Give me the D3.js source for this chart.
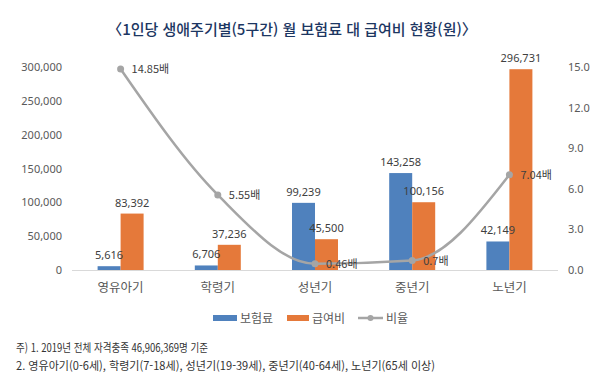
<!DOCTYPE html>
<html lang="ko">
<head>
<meta charset="UTF-8">
<title>1인당 생애주기별 월 보험료 대 급여비 현황</title>
<script src="https://cdn.jsdelivr.net/npm/d3@7/dist/d3.min.js"></script>
<style>
  html, body { margin: 0; padding: 0; background: #fff; }
  svg text { font-family: "Noto Sans CJK KR", "Noto Sans", sans-serif; }
</style>
</head>
<body>
<script>
// 데이터
var categories = ['영유아기', '학령기', '성년기', '중년기', '노년기'];
var premium = [5616, 6706, 99239, 143258, 42149];     // 보험료
var benefit = [83392, 37236, 45500, 100156, 296731];  // 급여비
var ratio = [14.85, 5.55, 0.46, 0.7, 7.04];           // 비율(배)
var ratioLabels = ['14.85배', '5.55배', '0.46배', '0.7배', '7.04배'];
var leftTicks = [0, 50000, 100000, 150000, 200000, 250000, 300000];
var rightTicks = [0, 3, 6, 9, 12, 15];
var seriesNames = ['보험료', '급여비', '비율'];
var notes = [
  '주) 1. 2019년 전체 자격충족 46,906,369명 기준',
  '2. 영유아기(0-6세), 학령기(7-18세), 성년기(19-39세), 중년기(40-64세), 노년기(65세 이상)'
];

var W = 600, H = 384;
var blue = '#4f81bd', orange = '#e5793a', gray = '#a5a5a5', txt = '#595959';

var svg = d3.select('body').append('svg').attr('width', W).attr('height', H);

// 제목
svg.append('text').attr('x', 292).attr('y', 35).attr('text-anchor', 'middle')
  .attr('font-size', 15).attr('font-weight', 500).attr('fill', '#1c3662')
  .text('〈1인당 생애주기별(5구간) 월 보험료 대 급여비 현황(원)〉');

var x = d3.scaleBand().domain(categories).range([72, 558]);
var y = d3.scaleLinear().domain([0, 300000]).range([270, 67]);
var y2 = d3.scaleLinear().domain([0, 15]).range([270, 67]);
var bw = 23;

// 왼쪽 축
var gl = svg.append('g').attr('transform', 'translate(62,0)')
  .call(d3.axisLeft(y).tickValues(leftTicks).tickSize(0).tickPadding(0).tickFormat(d3.format(',')));
gl.select('.domain').remove();
gl.selectAll('text').attr('font-size', 11).attr('fill', txt).style('font-family', '"Noto Sans", sans-serif');

// 오른쪽 축
var gr = svg.append('g').attr('transform', 'translate(568,0)')
  .call(d3.axisRight(y2).tickValues(rightTicks).tickSize(0).tickPadding(0).tickFormat(d3.format('.1f')));
gr.select('.domain').remove();
gr.selectAll('text').attr('font-size', 11).attr('fill', txt).style('font-family', '"Noto Sans", sans-serif');

// 막대
svg.selectAll('.bar-p').data(premium).enter().append('rect')
  .attr('x', function (d, i) { return x(categories[i]) + x.bandwidth() / 2 - bw; })
  .attr('y', function (d) { return y(d); })
  .attr('width', bw).attr('height', function (d) { return y(0) - y(d); })
  .attr('fill', blue);
svg.selectAll('.bar-b').data(benefit).enter().append('rect')
  .attr('x', function (d, i) { return x(categories[i]) + x.bandwidth() / 2; })
  .attr('y', function (d) { return y(d); })
  .attr('width', bw).attr('height', function (d) { return y(0) - y(d); })
  .attr('fill', orange);

// 기준선
svg.append('line').attr('x1', 72).attr('x2', 558).attr('y1', y(0) + 0.5).attr('y2', y(0) + 0.5)
  .attr('stroke', '#d9d9d9').attr('stroke-width', 1);

// 막대 값
svg.selectAll('.lab-p').data(premium).enter().append('text')
  .attr('x', function (d, i) { return x(categories[i]) + x.bandwidth() / 2 - bw / 2; })
  .attr('y', function (d) { return y(d) - 7; })
  .attr('text-anchor', 'middle').attr('font-size', 11).attr('fill', '#404040')
  .style('font-family', '"Noto Sans", sans-serif')
  .text(d3.format(','));
svg.selectAll('.lab-b').data(benefit).enter().append('text')
  .attr('x', function (d, i) { return x(categories[i]) + x.bandwidth() / 2 + bw / 2; })
  .attr('y', function (d) { return y(d) - 7; })
  .attr('text-anchor', 'middle').attr('font-size', 11).attr('fill', '#404040')
  .style('font-family', '"Noto Sans", sans-serif')
  .text(d3.format(','));

// 비율 선
var line = d3.line()
  .x(function (d, i) { return x(categories[i]) + x.bandwidth() / 2; })
  .y(function (d) { return y2(d); })
  .curve(d3.curveMonotoneX);
svg.append('path').datum(ratio).attr('d', line)
  .attr('fill', 'none').attr('stroke', gray).attr('stroke-width', 2.5);
svg.selectAll('.dot').data(ratio).enter().append('circle')
  .attr('cx', function (d, i) { return x(categories[i]) + x.bandwidth() / 2; })
  .attr('cy', function (d) { return y2(d); })
  .attr('r', 3.5).attr('fill', gray);
svg.selectAll('.lab-r').data(ratio).enter().append('text')
  .attr('x', function (d, i) { return x(categories[i]) + x.bandwidth() / 2 + 11; })
  .attr('y', function (d) { return y2(d) + 4; })
  .attr('font-size', 11).attr('fill', '#404040')
  .text(function (d, i) { return ratioLabels[i]; });

// 범주 라벨
svg.selectAll('.cat').data(categories).enter().append('text')
  .attr('x', function (d) { return x(d) + x.bandwidth() / 2; })
  .attr('y', 292).attr('text-anchor', 'middle')
  .attr('font-size', 12.5).attr('fill', txt)
  .text(function (d) { return d; });

// 범례
var lg = svg.append('g').attr('transform', 'translate(0,318)');
lg.append('rect').attr('x', 213).attr('y', -3).attr('width', 24).attr('height', 6).attr('fill', blue);
lg.append('text').attr('x', 240).attr('y', 4.5).attr('font-size', 12).attr('fill', txt).text(seriesNames[0]);
lg.append('rect').attr('x', 287).attr('y', -3).attr('width', 22).attr('height', 6).attr('fill', orange);
lg.append('text').attr('x', 312).attr('y', 4.5).attr('font-size', 12).attr('fill', txt).text(seriesNames[1]);
lg.append('line').attr('x1', 358).attr('x2', 383).attr('y1', 0).attr('y2', 0)
  .attr('stroke', gray).attr('stroke-width', 2.5);
lg.append('circle').attr('cx', 370.5).attr('cy', 0).attr('r', 3).attr('fill', gray);
lg.append('text').attr('x', 386).attr('y', 4.5).attr('font-size', 12).attr('fill', txt).text(seriesNames[2]);

// 주석
svg.append('text').attr('x', 16).attr('y', 352).attr('font-size', 11.5).attr('fill', '#333')
  .attr('textLength', 192).attr('lengthAdjust', 'spacingAndGlyphs').text(notes[0]);
svg.append('text').attr('x', 16).attr('y', 369.5).attr('font-size', 11.5).attr('fill', '#333')
  .attr('textLength', 419).attr('lengthAdjust', 'spacingAndGlyphs').text(notes[1]);
</script>
</body>
</html>
